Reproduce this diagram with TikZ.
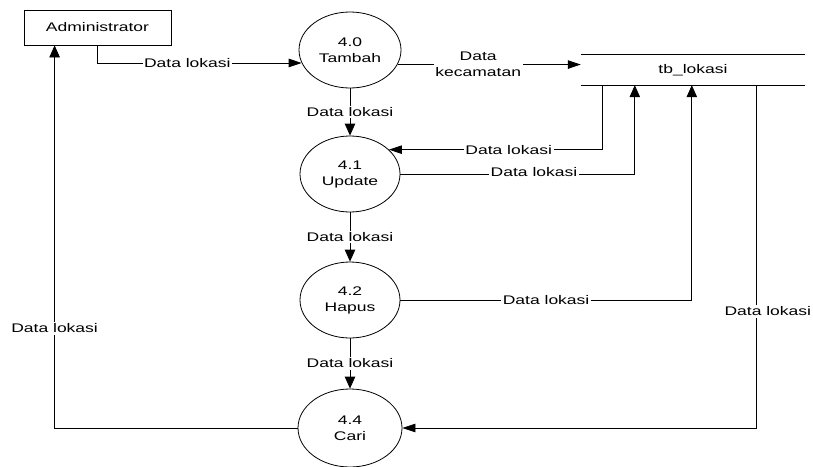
\documentclass[tikz,border=0pt]{standalone}
\usepackage{fontspec}
\setmainfont{Liberation Sans}
\usetikzlibrary{arrows.meta,calc,shapes.geometric}
% wide lettering used throughout the diagram
\newcommand{\wx}[1]{\scalebox{1.4}[1]{#1}}
\begin{document}
\begin{tikzpicture}[x=1pt,y=-1pt,
  every node/.style={font=\fontsize{12.5}{16}\selectfont},
  proc/.style={draw,ellipse,line width=0.8pt,inner sep=0pt,align=center},
  ext/.style={draw,rectangle,line width=0.8pt,inner sep=0pt},
  flowh/.style={line width=0.8pt,-{Triangle[length=13pt,width=8.5pt]}},
  flowv/.style={line width=0.8pt,-{Triangle[length=12pt,width=10.5pt]}},
  lbl/.style={fill=white,inner sep=1.5pt,align=center}]
\useasboundingbox (0,0) rectangle (813,466);

% terminator
\node[ext,minimum width=147pt,minimum height=35pt] (admin) at (97.5,27.5) {\wx{Administrator}};

% processes
\node[proc,minimum width=102pt,minimum height=76pt] (p40) at (350,50) {\wx{4.0}\\\wx{Tambah}};
\node[proc,minimum width=100pt,minimum height=76pt] (p41) at (350,174) {\wx{4.1}\\\wx{Update}};
\node[proc,minimum width=100pt,minimum height=76pt] (p42) at (350,300) {\wx{4.2}\\\wx{Hapus}};
\node[proc,minimum width=104pt,minimum height=78pt] (p44) at (350,428) {\wx{4.4}\\\wx{Cari}};

% data store
\node[minimum width=224pt,minimum height=30pt,inner sep=0pt] (store) at (693,70) {\wx{tb\_lokasi}};
\draw[line width=0.8pt] (store.north west) -- (store.north east);
\draw[line width=0.8pt] (store.south west) -- (store.south east);

% flows
\draw[flowh] (admin.south) |- (p40.195)
  node[lbl,pos=0.72] {\wx{Data lokasi}};
\draw[flowh] (p40.343) -- (p40.343 -| store.west)
  node[lbl,pos=0.44] {\wx{Data}\\\wx{kecamatan}};
\draw[flowv] (p40) -- (p41) node[lbl,midway] {\wx{Data lokasi}};
\draw[flowv] (p41) -- (p42) node[lbl,midway] {\wx{Data lokasi}};
\draw[flowv] (p42) -- (p44) node[lbl,midway] {\wx{Data lokasi}};

\draw[flowh] ($(store.south west)+(22,0)$) |- (p41.32)
  node[lbl,pos=0.72] {\wx{Data lokasi}};
\draw[flowv] (p41.east) -| ($(store.south west)+(54,0)$)
  node[lbl,pos=0.285,yshift=2pt] {\wx{Data lokasi}};
\draw[flowv] (p42.east) -| ($(store.south west)+(111,0)$)
  node[lbl,pos=0.25] {\wx{Data lokasi}};
\draw[flowh] ($(store.south west)+(176,0)$) |- (p44.east)
  node[lbl,pos=0.33,xshift=11pt] {\wx{Data lokasi}};
\draw[flowv] (p44.west) -| ($(admin.south west)+(31,0)$)
  node[lbl,pos=0.63] {\wx{Data lokasi}};
\end{tikzpicture}
\end{document}
